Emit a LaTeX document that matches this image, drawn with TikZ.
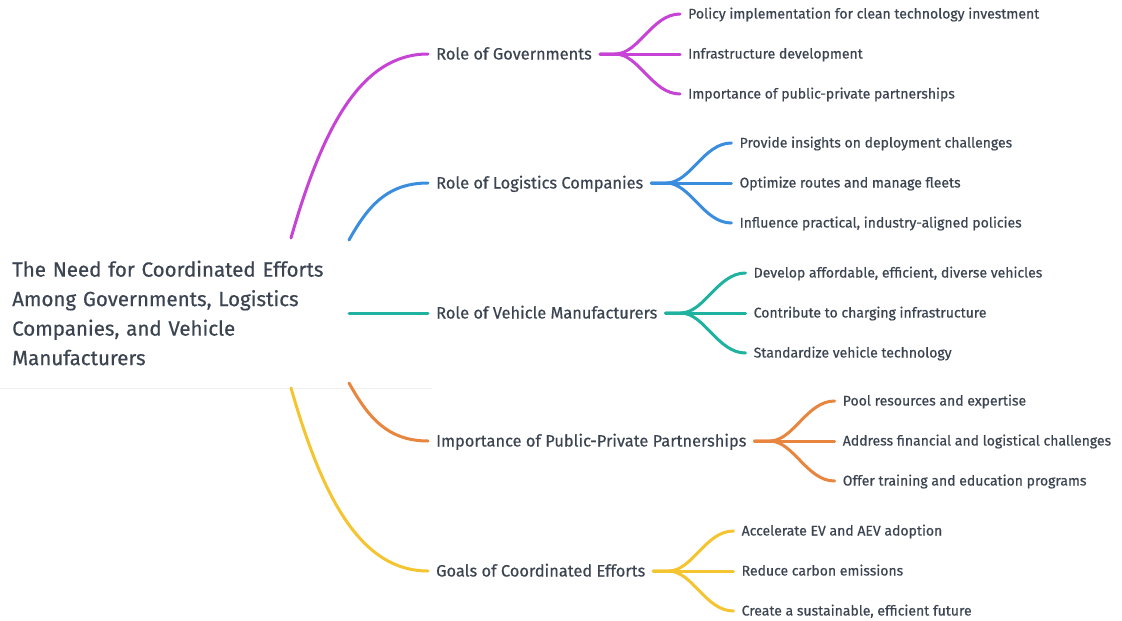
\documentclass[tikz,border=0pt]{standalone}
\usepackage{fontspec}
\setmainfont{Fira Sans}[UprightFeatures={FakeBold=0.5}]
\usetikzlibrary{positioning}

\definecolor{txt}{HTML}{3B4450}
\definecolor{cgov}{HTML}{C643D6}
\definecolor{clogi}{HTML}{3A8EDD}
\definecolor{cveh}{HTML}{20B2A0}
\definecolor{cppp}{HTML}{E8853F}
\definecolor{cgoals}{HTML}{F5C431}

\tikzset{
  root/.style={anchor=west, inner sep=0pt, text width=360pt, align=left,
    text=txt, font=\fontsize{20.5}{29.5}\selectfont},
  branch/.style={anchor=west, inner xsep=8pt, inner ysep=0pt, text height=11pt,
    text depth=0pt, text=txt, font=\fontsize{16.4}{18}\selectfont},
  leaf/.style={inner xsep=8pt, inner ysep=0pt, text height=9pt, text depth=0pt,
    text=txt, font=\fontsize{14}{15}\selectfont},
  edge/.style={line width=3pt, line cap=round},
}

\begin{document}
\begin{tikzpicture}[x=1pt,y=-1pt]
  \useasboundingbox (0,0) rectangle (1122,621);
  \fill[white] (0,0) rectangle (1122,621);
  % root
  \node[root] (root) at (12,313) {The Need for Coordinated Efforts\\
    Among Governments, Logistics\\ Companies, and Vehicle\\ Manufacturers};
  \draw[black!6, line width=0.6pt] (0,388) -- (432,388);
  \coordinate (r-gov) at (291,238);
  \coordinate (r-logi) at (349,240);
  \coordinate (r-veh) at (349,313);
  \coordinate (r-ppp) at (349,383);
  \coordinate (r-goals) at (291,388);

  % main branches
  \node[branch] (gov) at (428,54) {Role of Governments};
  \node[branch] (logi) at (428,183) {Role of Logistics Companies};
  \node[branch] (veh) at (428,313) {Role of Vehicle Manufacturers};
  \node[branch] (ppp) at (428,441) {Importance of Public-Private Partnerships};
  \node[branch] (goals) at (428,571) {Goals of Coordinated Efforts};

  \draw[edge, cgov] (r-gov) .. controls +(31,-108) and +(-68,0) .. (gov.west);
  \draw[edge, clogi] (r-logi) .. controls +(18,-32) and +(-42,0) .. (logi.west);
  \draw[edge, cveh] (r-veh) -- (veh.west);
  \draw[edge, cppp] (r-ppp) .. controls +(18,32) and +(-42,0) .. (ppp.west);
  \draw[edge, cgoals] (r-goals) .. controls +(31,108) and +(-68,0) .. (goals.west);

  % leaves
  \node[leaf, right=80pt of gov.east, yshift=40pt] (gov-1) {Policy implementation for clean technology investment};
  \node[leaf, right=80pt of gov.east] (gov-2) {Infrastructure development};
  \node[leaf, right=80pt of gov.east, yshift=-40pt] (gov-3) {Importance of public-private partnerships};

  \node[leaf, right=80pt of logi.east, yshift=40pt] (logi-1) {Provide insights on deployment challenges};
  \node[leaf, right=80pt of logi.east] (logi-2) {Optimize routes and manage fleets};
  \node[leaf, right=80pt of logi.east, yshift=-40pt] (logi-3) {Influence practical, industry-aligned policies};

  \node[leaf, right=80pt of veh.east, yshift=40pt] (veh-1) {Develop affordable, efficient, diverse vehicles};
  \node[leaf, right=80pt of veh.east] (veh-2) {Contribute to charging infrastructure};
  \node[leaf, right=80pt of veh.east, yshift=-40pt] (veh-3) {Standardize vehicle technology};

  \node[leaf, right=80pt of ppp.east, yshift=40pt] (ppp-1) {Pool resources and expertise};
  \node[leaf, right=80pt of ppp.east] (ppp-2) {Address financial and logistical challenges};
  \node[leaf, right=80pt of ppp.east, yshift=-40pt] (ppp-3) {Offer training and education programs};

  \node[leaf, right=80pt of goals.east, yshift=40pt] (goals-1) {Accelerate EV and AEV adoption};
  \node[leaf, right=80pt of goals.east] (goals-2) {Reduce carbon emissions};
  \node[leaf, right=80pt of goals.east, yshift=-40pt] (goals-3) {Create a sustainable, efficient future};

  % forks
  \foreach \b/\c in {gov/cgov, logi/clogi, veh/cveh, ppp/cppp, goals/cgoals}
    \foreach \k in {1,2,3}
      \draw[edge, \c] (\b.east) -- ++(15,0) .. controls +(24,0) and +(-28,0) .. (\b-\k.west);
\end{tikzpicture}
\end{document}
